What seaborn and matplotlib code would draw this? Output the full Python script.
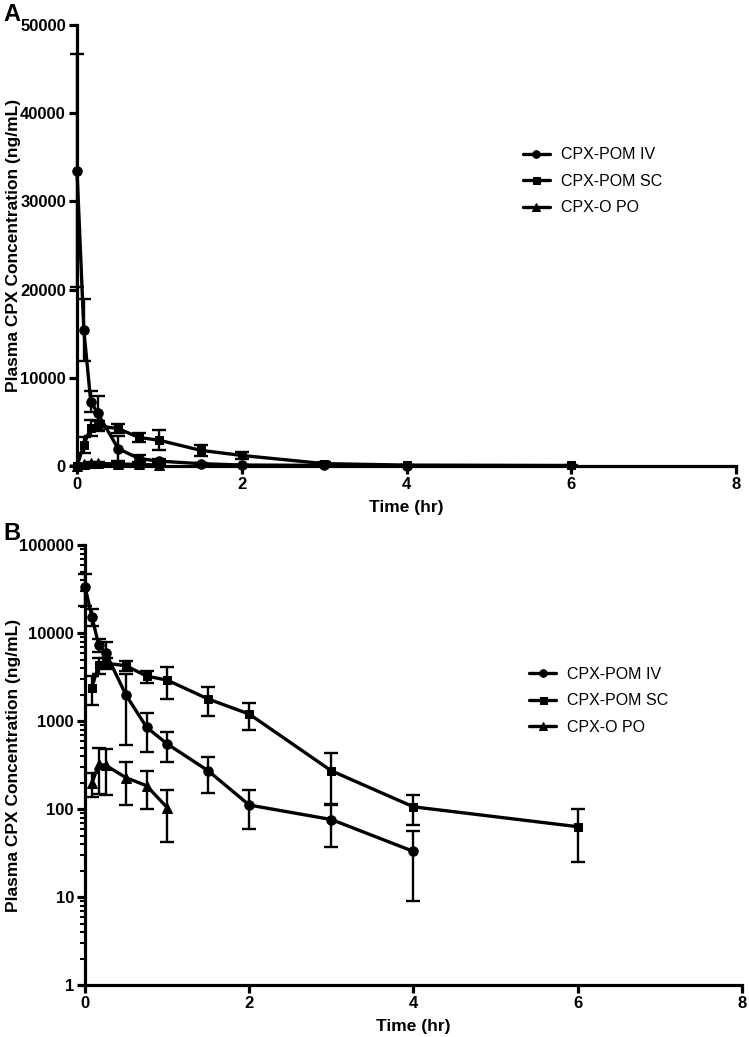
import pandas as pd
import seaborn as sns
import matplotlib.pyplot as plt
from matplotlib.ticker import LogLocator, FuncFormatter, MultipleLocator

# time points (hr)
iv_time = [0, 0.083, 0.167, 0.25, 0.5, 0.75, 1, 1.5, 2, 3, 4]
sc_time = [0, 0.083, 0.167, 0.25, 0.5, 0.75, 1, 1.5, 2, 3, 4, 6]
po_time = [0, 0.083, 0.167, 0.25, 0.5, 0.75, 1]

# mean plasma CPX concentration (ng/mL) and SD
iv_mean = [33500, 15400, 7300, 6000, 1970, 850, 550, 272, 111, 76, 33]
iv_sd = [13200, 3500, 1150, 1900, 1430, 400, 210, 118, 52, 39, 24]
sc_mean = [0, 2400, 4350, 4550, 4250, 3240, 2920, 1780, 1200, 272, 106, 63]
sc_sd = [0, 870, 900, 600, 550, 500, 1150, 650, 400, 160, 40, 38]
po_mean = [0, 196, 322, 315, 227, 184, 104]
po_sd = [0, 60, 175, 170, 115, 85, 62]

series_names = ['CPX-POM IV', 'CPX-POM SC', 'CPX-O PO']

sns.set_theme(style='ticks')
plt.rcParams['font.family'] = ['Liberation Sans', 'DejaVu Sans']
plt.rcParams['font.weight'] = 'bold'
plt.rcParams['axes.labelweight'] = 'bold'
for key in ['text.color', 'axes.labelcolor', 'xtick.color', 'ytick.color', 'axes.edgecolor']:
    plt.rcParams[key] = 'black'

series = [
    (series_names[0], iv_time, iv_mean, iv_sd, 'o', 6.8),
    (series_names[1], sc_time, sc_mean, sc_sd, 's', 6.3),
    (series_names[2], po_time, po_mean, po_sd, '^', 7),
]


def draw_panel(ax, log):
    if log:
        ax.set_yscale('log')
    for name, t, m, s, mk, ms in series:
        d = pd.DataFrame({'t': t, 'm': m, 's': s})
        if log:
            d = d[d.m > 0]
        ax.errorbar(d.t, d.m, yerr=d.s, fmt='none', ecolor='black',
                    elinewidth=1.7, capsize=5, capthick=1.7,
                    clip_on=False, zorder=2)
        sns.lineplot(data=d, x='t', y='m', ax=ax, color='black', marker=mk,
                     markersize=ms, markeredgecolor='black', linewidth=2.4,
                     errorbar=None, label=name, clip_on=False, zorder=3)

    ax.set_xlim(0, 8)
    ax.xaxis.set_major_locator(MultipleLocator(2))
    if log:
        ax.set_ylim(1, 100000)
        ax.yaxis.set_major_locator(LogLocator(base=10, numticks=10))
        ax.yaxis.set_minor_locator(LogLocator(base=10, subs=range(2, 10), numticks=100))
        ax.yaxis.set_major_formatter(FuncFormatter(lambda v, p: f"{int(round(v))}"))
    else:
        ax.set_ylim(0, 50000)
        ax.yaxis.set_major_locator(MultipleLocator(10000))

    sns.despine(ax=ax)
    for side in ['left', 'bottom']:
        ax.spines[side].set_linewidth(2.3)
    ax.tick_params(which='major', length=6, width=2.3, labelsize=12, pad=2, color='black')
    ax.tick_params(which='minor', length=3.5, width=1.5, color='black')
    ax.set_xlabel('Time (hr)', fontsize=12.5, labelpad=6)
    ax.set_ylabel('Plasma CPX Concentration (ng/mL)', fontsize=12.5)

    ax.legend(loc='upper left', bbox_to_anchor=(0.676, 0.723), frameon=False,
              borderpad=0, borderaxespad=0, handlelength=1.7, handletextpad=0.7,
              labelspacing=0.72, markerscale=0.8,
              prop={'size': 11.5, 'weight': 'normal'})


fig = plt.figure(figsize=(7.49, 10.37), dpi=100)
ax_a = fig.add_axes([0.1028, 0.5506, 0.880, 0.4253])
ax_b = fig.add_axes([0.1135, 0.0501, 0.877, 0.4243])

draw_panel(ax_a, log=False)
draw_panel(ax_b, log=True)
ax_a.yaxis.set_label_coords(-0.085, 0.5)
ax_b.yaxis.set_label_coords(-0.097, 0.5)

fig.text(0.004, 0.997, 'A', fontsize=17, fontweight='bold', va='top')
fig.text(0.004, 0.4966, 'B', fontsize=17, fontweight='bold', va='top')

plt.savefig('out.png', dpi=100)
